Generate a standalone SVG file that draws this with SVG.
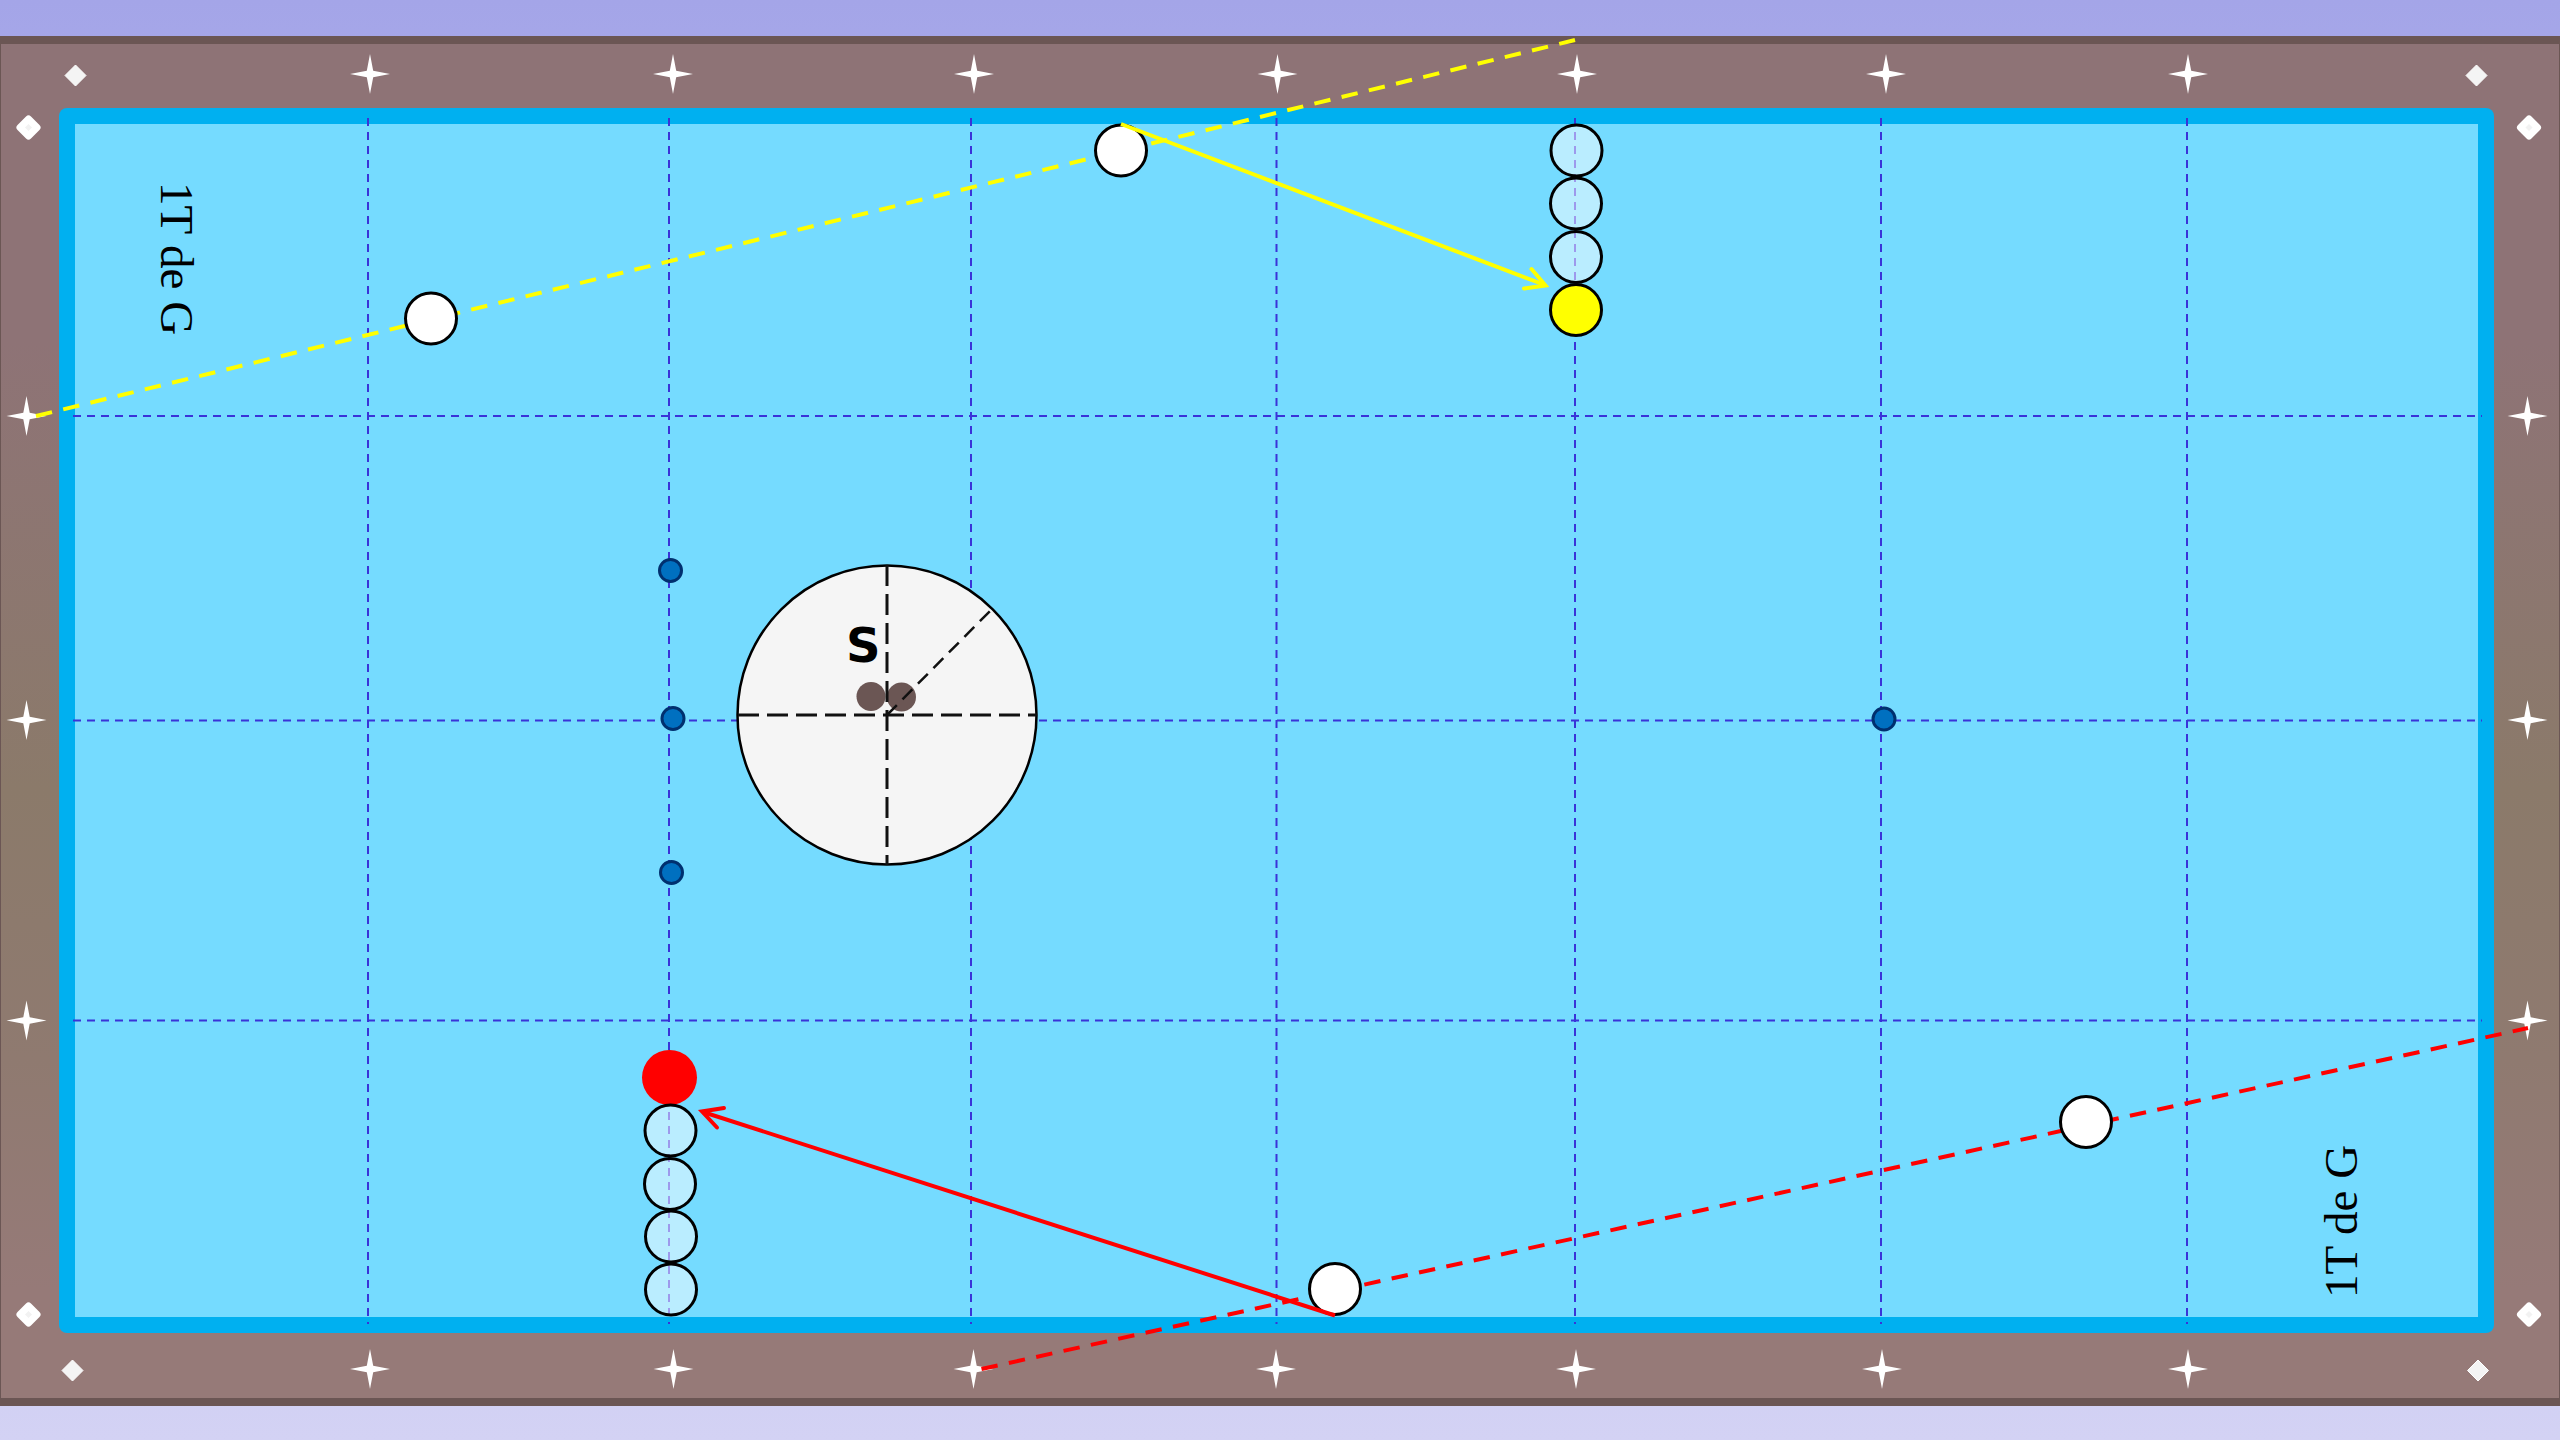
<svg xmlns="http://www.w3.org/2000/svg" width="2560" height="1440" viewBox="0 0 2560 1440">
<style>
.grid{stroke:#3a33d8;stroke-width:2;stroke-dasharray:8 6;fill:none}
.ball{stroke:#000;stroke-width:3}
.ghost{fill:#fff;fill-opacity:.5;stroke:#000;stroke-width:3}
.white{fill:#fff}
.dot{fill:#0070c0;stroke:#00306f;stroke-width:3}
.note{font-family:"Liberation Serif",serif;font-size:47px;fill:#000}
.dy{stroke:#ffff00;stroke-width:4;stroke-dasharray:16.5 11.5;fill:none}
.dr{stroke:#ff0000;stroke-width:4;stroke-dasharray:16.5 11.5;fill:none}
.big{stroke:#111;stroke-width:3;stroke-dasharray:21 8;fill:none}
</style>
<defs>
<linearGradient id="bg" x1="0" y1="0" x2="0" y2="1"><stop offset="0" stop-color="#a4a5e8"/><stop offset="1" stop-color="#d3d2f4"/></linearGradient>
<linearGradient id="fr" x1="0" y1="0" x2="0" y2="1"><stop offset="0" stop-color="#8e7376"/><stop offset=".22" stop-color="#8e7376"/><stop offset=".55" stop-color="#8b7a6a"/><stop offset=".75" stop-color="#8f7a70"/><stop offset=".92" stop-color="#967a78"/><stop offset="1" stop-color="#967a78"/></linearGradient>
<path id="star" fill="#fff" d="M0-20 L3.2-3.2 20 0 3.2 3.2 0 20-3.2 3.2-20 0-3.2-3.2Z"/>
<path id="dia" fill="#f4f4f4" stroke="#fff" stroke-width="1" stroke-linejoin="round" d="M0-10.500 L10.500 0 0 10.500-10.500 0Z"/>
<path id="dib" fill="#f2f2f2" stroke="#fff" stroke-width="7" stroke-linejoin="round" d="M0-8.500 L8.500 0 0 8.500-8.500 0Z"/>
</defs>
<g id="background"><rect width="2560" height="1440" fill="url(#bg)"/></g>
<g id="frame">
<rect x="0" y="36" width="2560" height="1370" fill="#6b5654"/>
<rect x="1" y="44" width="2558" height="1354" fill="url(#fr)"/>
</g>
<g id="table">
<rect x="59" y="108" width="2435" height="1225" rx="8" fill="#00b0f0"/>
<rect x="75" y="124" width="2403" height="1193" fill="#75dbff"/>
</g>
<g id="sights">
<use href="#star" x="370" y="74"/><use href="#star" x="673" y="74"/><use href="#star" x="974" y="74"/><use href="#star" x="1277.500" y="74"/><use href="#star" x="1577" y="74"/><use href="#star" x="1886" y="74"/><use href="#star" x="2188" y="74"/>
<use href="#star" x="370" y="1369"/><use href="#star" x="673.500" y="1369"/><use href="#star" x="973.500" y="1369"/><use href="#star" x="1276" y="1369"/><use href="#star" x="1576" y="1369"/><use href="#star" x="1882" y="1369"/><use href="#star" x="2188" y="1369"/>
<use href="#star" x="26.500" y="416"/><use href="#star" x="26.500" y="720"/><use href="#star" x="26.500" y="1020.500"/>
<use href="#star" x="2527.500" y="416"/><use href="#star" x="2527.500" y="720"/><use href="#star" x="2527.500" y="1020.500"/>
<use href="#dia" x="75.500" y="75.500"/><use href="#dia" x="2476.500" y="75.500"/><use href="#dia" x="72.500" y="1370.500"/><use href="#dia" x="2478" y="1370.500"/>
<use href="#dib" x="28.500" y="127.500"/><use href="#dib" x="2529" y="127.500"/><use href="#dib" x="28.500" y="1314.500"/><use href="#dib" x="2529" y="1314.500"/>
</g>
<g id="grid">
<path class="grid" d="M368 118V1324M669 118V1324M971 118V1324M1276.500 118V1324M1575 118V1324M1881 118V1324M2187 118V1324"/>
<path class="grid" d="M73 416H2482M73 720.500H2482M73 1020.500H2482"/>
</g>
<g id="connectors-dashed">
<path class="dy" d="M36 416 L1575 40"/>
<path class="dr" d="M981.500 1369 L2528 1028"/>
</g>
<g id="balls-white">
<circle id="ball-w1" class="ball white" cx="431" cy="318.500" r="25.500"/>
<circle id="ball-w2" class="ball white" cx="1121" cy="150.500" r="25.500"/>
<circle id="ball-w3" class="ball white" cx="1335" cy="1289" r="25.500"/>
<circle id="ball-w4" class="ball white" cx="2086" cy="1122" r="25.500"/>
</g>
<g id="balls-yellow">
<circle class="ghost" cx="1576.500" cy="150.500" r="25.500"/>
<circle class="ghost" cx="1576" cy="203.500" r="25.500"/>
<circle class="ghost" cx="1576" cy="257" r="25.500"/>
<circle class="ball" fill="#ffff00" cx="1576" cy="310" r="25.500"/>
</g>
<g id="balls-red">
<circle fill="#ff0000" cx="669.500" cy="1077.500" r="27.500"/>
<circle class="ghost" cx="670.500" cy="1130.500" r="25.500"/>
<circle class="ghost" cx="670" cy="1184" r="25.500"/>
<circle class="ghost" cx="671" cy="1236.500" r="25.500"/>
<circle class="ghost" cx="671" cy="1289.500" r="25.500"/>
</g>
<g id="connectors-solid" fill="none" stroke-width="4">
<path stroke="#ffff00" d="M1121 124 L1545 285"/>
<path stroke="#ffff00" stroke-linecap="round" d="M1531.500 269 L1545.500 285.500 1524 288.500"/>
<path stroke="#ff0000" d="M1335 1315.500 L703 1112"/>
<path stroke="#ff0000" stroke-linecap="round" d="M724 1108 L702 1111.500 717 1127.500"/>
</g>
<g id="marks">
<circle class="dot" cx="670.500" cy="570.500" r="11"/>
<circle class="dot" cx="673" cy="718.500" r="11"/>
<circle class="dot" cx="671.500" cy="872.500" r="11"/>
<circle class="dot" cx="1884" cy="719" r="11"/>
</g>
<g id="cue-ball">
<circle cx="887" cy="715" r="149.500" fill="#f5f5f5" stroke="#000" stroke-width="2.500"/>
<circle cx="871" cy="696.500" r="14.500" fill="#6b5654"/>
<circle cx="901.500" cy="697" r="14.500" fill="#6b5654"/>
<path class="big" d="M887 565V865"/>
<path class="big" d="M738 715H1037"/>
<path d="M887 715L992 609" stroke="#111" stroke-width="2.500" stroke-dasharray="14 8" fill="none"/>
<text x="846" y="661.500" font-family="DejaVu Sans,sans-serif" font-weight="700" font-size="48" fill="#000">S</text>
</g>
<g id="labels">
<text class="note" transform="translate(161 182) rotate(90)">1T de G</text>
<text class="note" transform="translate(2357 1298) rotate(-90)">1T de G</text>
</g>
</svg>
